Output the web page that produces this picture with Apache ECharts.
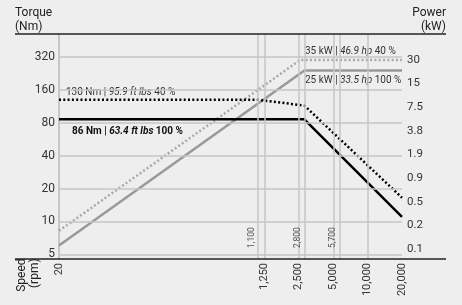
<!DOCTYPE html>
<html lang="en">
<head>
<meta charset="UTF-8">
<title>Torque / Power</title>
<script src="https://cdn.jsdelivr.net/npm/echarts@6/dist/echarts.min.js"></script>
<style>
  html, body { margin: 0; padding: 0; background: #eeeeee; }
</style>
</head>
<body>
<div id="main" style="width:462px;height:305px"></div>
<script>
// ticks / labels
var speedTicks = [20, 1250, 2500, 5000, 10000, 20000];
var speedMarks = [1100, 1250, 2500, 2800, 5000, 5700, 10000, 20000];
var speedMarkLabels = [1100, 2800, 5700];
var torqueTicks = [5, 10, 20, 40, 80, 160, 320];
var powerTicks = [30, 15, 7.5, 3.75, 1.875, 0.9375, 0.46875, 0.234375, 0.1171875];
var powerTickLabels = ['30', '15', '7.5', '3.8', '1.9', '0.9', '0.5', '0.2', '0.1'];

// curves (rpm / Nm / kW)
var speed100 = [20, 2800, 20000];
var torque100 = [86, 86, 11];
var speed40 = [20, 1100, 2800, 20000];
var torque40 = [130, 130, 115, 16.5];
var powerSpeed100 = [20, 2800, 20000];
var power100 = [0.13, 22, 22];
var powerSpeed40 = [20, 2570, 20000];
var power40 = [0.2, 30, 30];

// log2 axes
function sx(rpm) { return Math.log2(rpm / 20); }
function ty(nm) { return Math.log2(nm / 5); }
function py(kw) { return Math.log2(kw / 30) + 8; }

function pairs(xs, ys, fy) {
    return xs.map(function (s, i) { return [sx(s), fy(ys[i])]; });
}

var font = 'Roboto';
var myChart = echarts.init(document.getElementById('main'));

var marks = speedMarks.map(function (s) {
    var lab = speedMarkLabels.indexOf(s) >= 0;
    return {
        xAxis: sx(s),
        label: lab ? {
            show: true, position: 'insideStartTop', distance: [11, 2],
            formatter: s.toLocaleString('en-US'),
            fontFamily: font, fontSize: 8.5, color: '#555'
        } : { show: false }
    };
}).concat(torqueTicks.map(function (t) {
    return { yAxis: ty(t) };
}));

var option = {
    backgroundColor: '#eeeeee',
    animation: false,
    grid: { left: 59, right: 60, top: 34, bottom: 46, outerBoundsMode: 'none' },
    xAxis: {
        type: 'value',
        min: 0,
        max: sx(20000),
        name: 'Speed\n(rpm)',
        nameLocation: 'start',
        nameRotate: 90,
        nameGap: 44,
        nameTextStyle: {
            fontFamily: font, fontSize: 12, lineHeight: 13, color: '#222',
            align: 'right', verticalAlign: 'top', padding: [0, 4, 0, 0]
        },
        axisLine: { show: false },
        axisTick: { show: false },
        splitLine: { show: false },
        axisLabel: {
            customValues: speedTicks.map(sx),
            rotate: 90,
            margin: 4,
            fontFamily: font, fontSize: 11, color: '#333',
            formatter: function (v) { return Math.round(20 * Math.pow(2, v)).toLocaleString('en-US'); }
        }
    },
    yAxis: [
        {
            type: 'value',
            position: 'left',
            min: -0.14,
            max: 6.699,
            axisLine: { show: true, lineStyle: { color: '#b8b8b8', width: 1.5 } },
            axisTick: { show: false },
            splitLine: { show: false },
            axisLabel: {
                customValues: torqueTicks.map(ty),
                margin: 4,
                padding: [0, 0, 8, 0],
                fontFamily: font, fontSize: 12, color: '#333',
                formatter: function (v) { return Math.round(5 * Math.pow(2, v)); }
            }
        },
        {
            type: 'value',
            position: 'right',
            min: -0.423,
            max: 9.10,
            axisLine: { show: false },
            axisTick: { show: false },
            splitLine: { show: false },
            axisLabel: {
                customValues: powerTicks.map(py),
                margin: 5,
                fontFamily: font, fontSize: 11.5, color: '#333',
                formatter: function (v) {
                    for (var i = 0; i < powerTicks.length; i++) {
                        if (Math.abs(py(powerTicks[i]) - v) < 1e-6) return powerTickLabels[i];
                    }
                    return '';
                }
            }
        }
    ],
    series: [
        {
            // grid lines
            type: 'line',
            data: [],
            z: 1,
            markLine: {
                silent: true,
                symbol: 'none',
                animation: false,
                label: { show: false },
                lineStyle: { color: '#c6c6c6', width: 1.5, type: 'solid' },
                emphasis: { disabled: true },
                data: marks
            }
        },
        {
            name: 'power 40',
            type: 'line',
            yAxisIndex: 1,
            symbol: 'none',
            z: 3,
            data: pairs(powerSpeed40, power40, py),
            lineStyle: { color: '#a8a8a8', width: 2.5, type: [2, 2.3] }
        },
        {
            name: 'power 100',
            type: 'line',
            yAxisIndex: 1,
            symbol: 'none',
            z: 3,
            data: pairs(powerSpeed100, power100, py),
            lineStyle: { color: '#999999', width: 2.5 }
        },
        {
            name: 'torque 40',
            type: 'line',
            yAxisIndex: 0,
            symbol: 'none',
            z: 4,
            data: pairs(speed40, torque40, ty),
            lineStyle: { color: '#000', width: 2.5, type: [2, 2.3] }
        },
        {
            name: 'torque 100',
            type: 'line',
            yAxisIndex: 0,
            symbol: 'none',
            z: 4,
            data: pairs(speed100, torque100, ty),
            lineStyle: { color: '#000', width: 2.5 }
        }
    ],
    graphic: [
        { type: 'line', shape: { x1: 15, y1: 34, x2: 446, y2: 34 }, style: { stroke: '#222', lineWidth: 1.5 }, z: 10 },
        { type: 'line', shape: { x1: 15, y1: 259, x2: 446, y2: 259 }, style: { stroke: '#222', lineWidth: 1.5 }, z: 10 },
        { type: 'text', x: 15, y: 6, style: { text: 'Torque\n(Nm)', fontFamily: font, fontSize: 12, lineHeight: 14, fill: '#222', align: 'left', verticalAlign: 'top' } },
        { type: 'text', x: 446, y: 6, style: { text: 'Power\n(kW)', fontFamily: font, fontSize: 12, lineHeight: 14, fill: '#222', align: 'right', verticalAlign: 'top' } },
        {
            type: 'text', x: 66, y: 92,
            style: {
                text: '130 Nm | {i|95.9 ft lbs} 40 %', fontFamily: font, fontSize: 10, fill: '#333', verticalAlign: 'middle',
                rich: { i: { fontStyle: 'italic', fontFamily: font, fontSize: 10, fill: '#333' } }
            }
        },
        {
            type: 'text', x: 72, y: 131,
            style: {
                text: '86 Nm | {i|63.4 ft lbs} 100 %', fontFamily: font, fontSize: 10, fontWeight: 'bold', fill: '#111', verticalAlign: 'middle',
                rich: { i: { fontStyle: 'italic', fontWeight: 'bold', fontFamily: font, fontSize: 10, fill: '#111' } }
            }
        },
        {
            type: 'text', x: 305, y: 51.5,
            style: {
                text: '35 kW | {i|46.9 hp} 40 %', fontFamily: font, fontSize: 10, fill: '#333', verticalAlign: 'middle',
                rich: { i: { fontStyle: 'italic', fontFamily: font, fontSize: 10, fill: '#333' } }
            }
        },
        {
            type: 'text', x: 305, y: 80,
            style: {
                text: '25 kW | {i|33.5 hp} 100 %', fontFamily: font, fontSize: 10, fill: '#333', verticalAlign: 'middle',
                rich: { i: { fontStyle: 'italic', fontFamily: font, fontSize: 10, fill: '#333' } }
            }
        }
    ]
};

myChart.setOption(option);
</script>
</body>
</html>
